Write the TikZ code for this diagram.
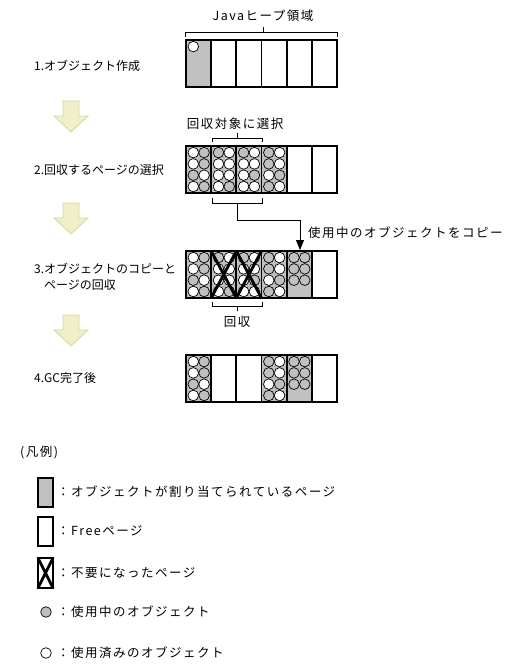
\documentclass[tikz,border=0pt]{standalone}
\usepackage{fontspec}
\setmainfont{Noto Sans CJK JP}
\newfontfamily\jpspaced[LetterSpace=12]{Noto Sans CJK JP}
\usetikzlibrary{arrows.meta}

\definecolor{pggray}{RGB}{192,192,192}
\definecolor{arrowfill}{RGB}{240,240,200}
\definecolor{arrowline}{RGB}{212,212,168}

\tikzset{
  pagebox/.style={draw, line width=1.8pt},
  usedpg/.style={pagebox, fill=pggray},
  freepg/.style={pagebox, fill=white},
  live/.style={draw, line width=0.7pt, fill=pggray},
  dead/.style={draw, line width=0.7pt, fill=white},
  garbage/.style={line width=2.8pt},
  bracket/.style={line width=0.9pt},
  steparrow/.style={fill=arrowfill, draw=arrowline, line width=0.8pt},
  lbl/.style={font=\jpspaced\fontsize{12.5}{15}\selectfont, inner sep=0pt},
  steplbl/.style={font=\fontsize{12}{16}\selectfont, anchor=west, inner sep=0pt, align=left},
}

\begin{document}
\begin{tikzpicture}[x=1pt,y=-1pt]
\useasboundingbox (0,0) rectangle (517,672);

%%%%%%%%%%%%%%%%%%%%%%%%%%%%%%%%%%%%%%%%%%%%%%%%%%
% Heap rows
%%%%%%%%%%%%%%%%%%%%%%%%%%%%%%%%%%%%%%%%%%%%%%%%%%

% Free pages
\foreach \ry in {40,146,251,355}
  \foreach \i in {0,...,5}
    \draw[freepg] (186+\i*25.17,\ry) rectangle ++(25.17,47);

% Pages holding objects
\foreach \px/\ry/\pat in {
    186/40/{dead},
    186/146/{dead,live,dead,live,live,dead,dead,live},
    211.17/146/{live,dead,dead,dead,dead,dead,dead,live},
    236.33/146/{live,dead,dead,dead,dead,live,dead,dead},
    261.5/146/{live,dead,live,dead,dead,live,live,dead},
    186/251/{dead,live,dead,live,live,dead,dead,live},
    211.17/251/{live,dead,dead,dead,dead,dead,dead,live},
    236.33/251/{live,dead,dead,dead,dead,live,dead,dead},
    261.5/251/{live,dead,live,dead,dead,live,live,dead},
    286.67/251/{live,live,live,live,live,live},
    186/355/{dead,live,dead,live,live,dead,dead,live},
    261.5/355/{live,dead,live,dead,dead,live,live,dead},
    286.67/355/{live,live,live,live,live,live}}
{
  \draw[usedpg] (\px,\ry) rectangle ++(25.17,47);
  \foreach \c [count=\k from 0] in \pat {
    \pgfmathsetmacro\cx{\px+7.3+10.8*mod(\k,2)}
    \pgfmathsetmacro\cy{\ry+6.6+11.3*int(\k/2)}
    \draw[\c] (\cx,\cy) circle (5.3);
  }
}

% Reclaimed pages
\foreach \px in {211.17,236.33}
  \draw[garbage] (\px,251) -- ++(25.17,47) (\px+25.17,251) -- ++(-25.17,47);

%%%%%%%%%%%%%%%%%%%%%%%%%%%%%%%%%%%%%%%%%%%%%%%%%%
% Steps
%%%%%%%%%%%%%%%%%%%%%%%%%%%%%%%%%%%%%%%%%%%%%%%%%%

\node[steplbl] (step1) at (34,66) {1.オブジェクト作成};
\node[steplbl] (step2) at (34,170) {2.回収するページの選択};
\node[steplbl] (step3) at (34,277) {3.オブジェクトのコピーと\\\phantom{3.}ページの回収};
\node[steplbl] (step4) at (34,378) {4.GC完了後};

% Arrows
\foreach \ay in {101,203,315}
  \draw[steparrow] (63,\ay) -- (79,\ay) -- (79,\ay+15) -- (88,\ay+15)
    -- (71,\ay+31) -- (54,\ay+15) -- (63,\ay+15) -- cycle;

%%%%%%%%%%%%%%%%%%%%%%%%%%%%%%%%%%%%%%%%%%%%%%%%%%
% Brackets
%%%%%%%%%%%%%%%%%%%%%%%%%%%%%%%%%%%%%%%%%%%%%%%%%%

% Heap
\node[lbl] (heap) at (263,16) {Javaヒープ領域};
\coordinate (heapL) at (185,37);
\coordinate (heapR) at (337,37);
\coordinate (heapM) at (263,32);
\draw[bracket] (heapL) -- ++(0,-5) -| (heapR);
\draw[bracket] (heapM) -- ++(0,-5);

% Selection
\node[lbl] (sel) at (235,124) {回収対象に選択};
\coordinate (selL) at (212,142);
\coordinate (selR) at (262,142);
\coordinate (selM) at (237,138);
\draw[bracket] (selL) -- ++(0,-4) -| (selR);
\draw[bracket] (selM) -- ++(0,-5);

\coordinate (srcL) at (212,198);
\coordinate (srcR) at (262,198);
\coordinate (srcM) at (237,203);
\coordinate (dst) at (300,250);
\draw[bracket] (srcL) -- ++(0,5) -| (srcR);
\draw[bracket, -{Triangle[length=10pt,width=8pt]}] (srcM) -- ++(0,17) -| (dst);
\node[lbl, anchor=west] (copy) at (308,233) {使用中のオブジェクトをコピー};

% Reclaim
\node[lbl] (recl) at (237,322) {回収};
\coordinate (rclL) at (212,302);
\coordinate (rclR) at (262,302);
\coordinate (rclM) at (237,306);
\draw[bracket] (rclL) -- ++(0,4) -| (rclR);
\draw[bracket] (rclM) -- ++(0,5);

%%%%%%%%%%%%%%%%%%%%%%%%%%%%%%%%%%%%%%%%%%%%%%%%%%
% Legend
%%%%%%%%%%%%%%%%%%%%%%%%%%%%%%%%%%%%%%%%%%%%%%%%%%

\node[lbl, anchor=west] (key) at (20,452) {(凡例)};

\draw[usedpg] (38,478) rectangle (53,507);
\draw[freepg] (38,517) rectangle (53,546);
\draw[freepg] (38,558) rectangle (53,588);
\draw[garbage] (38,558) -- (53,588) (53,558) -- (38,588);
\draw[live] (46,612) circle (5.3);
\draw[dead] (46,653) circle (5.3);

\node[lbl, anchor=west] (keyused) at (57,492) {：オブジェクトが割り当てられているページ};
\node[lbl, anchor=west] (keyfree) at (57,531) {：Freeページ};
\node[lbl, anchor=west] (keygone) at (57,573) {：不要になったページ};
\node[lbl, anchor=west] (keylive) at (57,612) {：使用中のオブジェクト};
\node[lbl, anchor=west] (keydead) at (57,653) {：使用済みのオブジェクト};

\end{tikzpicture}
\end{document}
